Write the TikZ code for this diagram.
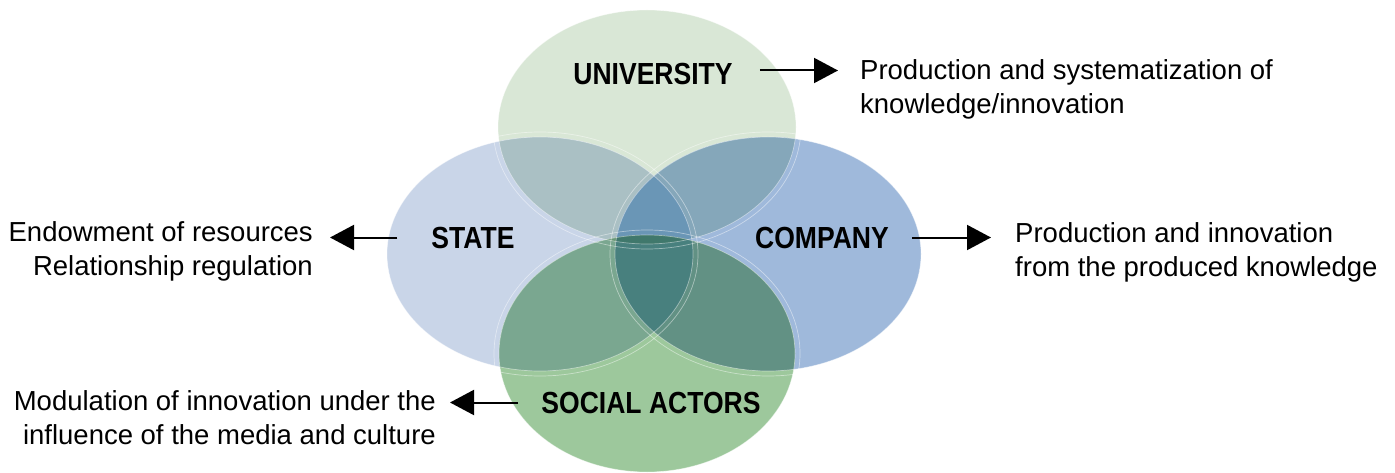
\documentclass[tikz,border=0pt]{standalone}
\usepackage{fontspec}
\setmainfont{Liberation Sans}
\newfontfamily\lblfont[FakeStretch=0.87]{Liberation Sans}
\usetikzlibrary{arrows.meta}
\definecolor{cU}{RGB}{217,231,214}
\definecolor{cS}{RGB}{201,213,232}
\definecolor{cC}{RGB}{159,185,219}
\definecolor{cA}{RGB}{157,200,156}
\definecolor{cUS}{RGB}{170,192,196}
\definecolor{cUC}{RGB}{133,167,186}
\definecolor{cUA}{RGB}{134,181,131}
\definecolor{cSC}{RGB}{125,155,199}
\definecolor{cSA}{RGB}{122,167,144}
\definecolor{cCA}{RGB}{98,145,132}
\definecolor{cUSC}{RGB}{106,150,182}
\definecolor{cUSA}{RGB}{105,151,119}
\definecolor{cUCA}{RGB}{83,132,113}
\definecolor{cSCA}{RGB}{72,128,126}
\definecolor{cUSCA}{RGB}{64,120,108}
\tikzset{
  eU/.style={insert path={(647,127) ellipse [x radius=149pt, y radius=117pt]}},
  eS/.style={insert path={(540,254) ellipse [x radius=153pt, y radius=117pt]}},
  eC/.style={insert path={(768,254) ellipse [x radius=153pt, y radius=117pt]}},
  eA/.style={insert path={(647,353.5) ellipse [x radius=148pt, y radius=118.5pt]}},
  gU/.style={insert path={(647,127) ellipse [x radius=154pt, y radius=122pt]}},
  gS/.style={insert path={(540,254) ellipse [x radius=158pt, y radius=122pt]}},
  gC/.style={insert path={(768,254) ellipse [x radius=158pt, y radius=122pt]}},
  gA/.style={insert path={(647,353.5) ellipse [x radius=153pt, y radius=123.5pt]}},
  glow/.style={draw=white, draw opacity=0.45, line width=0.7pt},
  lbl/.style={font=\lblfont\bfseries\fontsize{30.5}{32}\selectfont, inner sep=0pt, anchor=base},
  desc/.style={font=\fontsize{27.5}{34}\selectfont, inner sep=0pt},
  arr/.style={line width=2pt, -{Triangle[length=24pt, width=25pt]}}
}
\begin{document}
\begin{tikzpicture}[x=1pt, y=-1pt]
\useasboundingbox (0,0) rectangle (1395,473);
% base fills
\fill[cU, eU];
\fill[cS, eS];
\fill[cC, eC];
\fill[cA, eA];
% pairwise
\begin{scope}\clip[eU]; \fill[cUS, eS]; \end{scope}
\begin{scope}\clip[eU]; \fill[cUC, eC]; \end{scope}
\begin{scope}\clip[eU]; \fill[cUA, eA]; \end{scope}
\begin{scope}\clip[eS]; \fill[cSC, eC]; \end{scope}
\begin{scope}\clip[eS]; \fill[cSA, eA]; \end{scope}
\begin{scope}\clip[eC]; \fill[cCA, eA]; \end{scope}
% triples
\begin{scope}\clip[eU]; \clip[eS]; \fill[cUSC, eC]; \end{scope}
\begin{scope}\clip[eU]; \clip[eS]; \fill[cUSA, eA]; \end{scope}
\begin{scope}\clip[eU]; \clip[eC]; \fill[cUCA, eA]; \end{scope}
\begin{scope}\clip[eS]; \clip[eC]; \fill[cSCA, eA]; \end{scope}
% all four
\begin{scope}\clip[eU]; \clip[eS]; \clip[eC]; \fill[cUSCA, eA]; \end{scope}
% faint glow outlines
\path[glow, gU];
\path[glow, gS];
\path[glow, gC];
\path[glow, gA];
\path[glow, eU];
\path[glow, eS];
\path[glow, eC];
\path[glow, eA];
% labels
\node[lbl] (univ) at (653,85) {UNIVERSITY};
\node[lbl] (state) at (473,248) {STATE};
\node[lbl] (comp) at (822,248) {COMPANY};
\node[lbl] (soc) at (651,413) {SOCIAL ACTORS};
% descriptions
\node[desc, anchor=base west] (univd) at (860,80)
  {\begin{tabular}[t]{@{}l@{}}Production and systematization of\\ knowledge/innovation\end{tabular}};
\node[desc, anchor=base east] (stated) at (313,242)
  {\begin{tabular}[t]{@{}r@{}}Endowment of resources\\ Relationship regulation\end{tabular}};
\node[desc, anchor=base west] (compd) at (1015,243)
  {\begin{tabular}[t]{@{}l@{}}Production and innovation\\ from the produced knowledge\end{tabular}};
\node[desc, anchor=base east] (socd) at (436,410)
  {\begin{tabular}[t]{@{}r@{}}Modulation of innovation under the\\ influence of the media and culture\end{tabular}};
% arrows
\draw[arr] ([xshift=27pt, yshift=4pt]univ.east) -- ([xshift=-22pt, yshift=4pt]univ.east -| univd.west);
\draw[arr] ([xshift=-34pt]state.west) -- ([xshift=17pt]state.west -| stated.east);
\draw[arr] ([xshift=23pt]comp.east) -- ([xshift=-24pt]comp.east -| compd.west);
\draw[arr] ([xshift=-23pt]soc.west) -- ([xshift=14pt]soc.west -| socd.east);
\end{tikzpicture}
\end{document}
